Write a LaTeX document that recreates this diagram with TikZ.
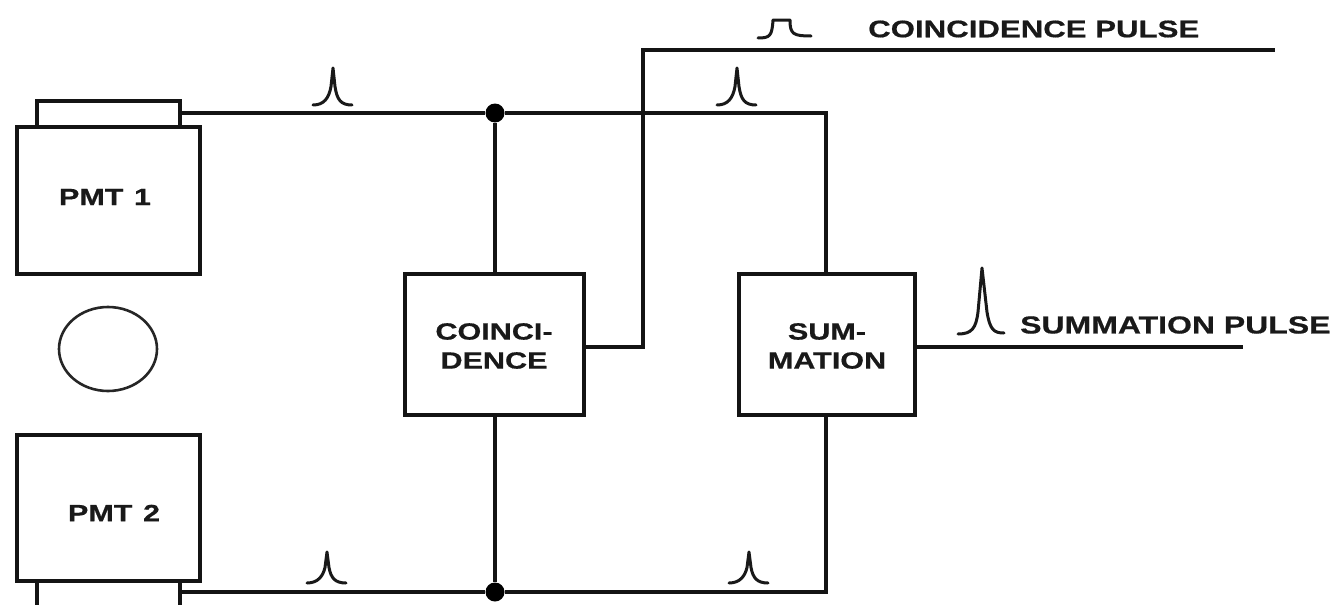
\documentclass[tikz,border=0pt]{standalone}
\usepackage{fontspec}
\usetikzlibrary{shapes.geometric}
\setmainfont{Liberation Sans}[BoldFont=Liberation Sans Bold]
\newfontfamily\lblfont{Liberation Sans Bold}[FakeStretch=1.3,FakeBold=0.6]
\tikzset{
  x=1pt,y=-1pt,
  wire/.style={line width=4.4pt,line join=miter,color=black!92},
  blockbox/.style={draw=black!92,line width=4.5pt,fill=white,minimum width=#1,inner sep=0pt},
  blocktext/.style={align=center,inner sep=0pt,text=black!90,font=\lblfont\fontsize{23.5}{29}\selectfont},
  lbl/.style={font=\lblfont\fontsize{#1}{28}\selectfont,inner sep=0pt,anchor=west,text=black!90},
  pmtlbl/.style={font=\lblfont\fontsize{23.5}{24}\selectfont,text=black!90,inner sep=0pt},
  pulse/.style={line width=3pt,line cap=round,line join=round,color=black!90},
  junction/.style={circle,fill=black,inner sep=0pt,minimum size=19pt}
}
\newcommand{\peak}[3]{% x, baseline y, height
  \draw[pulse] (#1-20,#2) .. controls (#1-9,#2) and (#1-4,#2-7) .. (#1-2,#2-#3*0.5) -- (#1,#2-#3)
    -- (#1+2,#2-#3*0.5) .. controls (#1+4,#2-5) and (#1+8,#2) .. (#1+19,#2);}
\begin{document}
\begin{tikzpicture}
\useasboundingbox (0,0) rectangle (1334,605);
% windows
\node[blockbox=143pt,minimum height=26pt] (win1) at (108.5,114) {};
\node[blockbox=143pt,minimum height=40pt] (win2) at (108.5,601) {};
% tubes
\node[blockbox=183pt,minimum height=147pt] (pmt1) at (108.5,200.5) {};
\node[blockbox=183pt,minimum height=146pt] (pmt2) at (108.5,508) {};
\node[pmtlbl] (pmt1t) at (105,197) {PMT\hspace{0.45em}1};
\node[pmtlbl] (pmt2t) at (114,513) {PMT\hspace{0.45em}2};
% source
\node[draw=black!85,line width=2.6pt,ellipse,minimum width=98pt,minimum height=84pt,inner sep=0pt] (src) at (108,349) {};
% logic
\node[blockbox=179pt,minimum height=141pt] (coin) at (494.5,344.5) {};
\node[blockbox=176pt,minimum height=141pt] (sum) at (827,344.5) {};
\node[blocktext] (coint) at (494,346) {COINCI-\\DENCE};
\node[blocktext] (sumt) at (827,346) {SUM-\\MATION};
% junctions
\node[junction] (jt) at (495,113) {};
\node[junction] (jb) at (495,592) {};
% corners and free ends
\coordinate (ct) at (826,113);
\coordinate (cb) at (826,592);
\coordinate (ob) at (643,347);
\coordinate (ot) at (643,50);
\coordinate (oe) at (1275,50);
\coordinate (se) at (1243,347);
% connectors
\draw[wire] (win1.east |- jt) -- (jt) -- (ct) -- (ct |- sum.north);
\draw[wire] (win2.east |- jb) -- (jb) -- (cb) -- (cb |- sum.south);
\draw[wire] (jt) -- (jt |- coin.north);
\draw[wire] (jb) -- (jb |- coin.south);
\draw[wire] (coin.east |- ob) -- (ob) -- (ot) -- (oe);
\draw[wire] (sum.east |- se) -- (se);
% pulses
\peak{333}{105}{37}
\peak{737}{105}{37}
\peak{327}{583}{31}
\peak{749}{583}{31}
\draw[pulse] (958,334) .. controls (972,334) and (976,328) .. (978,312) -- (982,268)
  -- (987,312) .. controls (990,330) and (994,333) .. (1004,333);
\draw[pulse] (758,38) .. controls (770,38) and (772,36) .. (773,20) -- (790,20)
  .. controls (790,34) and (793,36) .. (811,36);
% labels
\node[lbl=24] (cl) at (868,29) {COINCIDENCE PULSE};
\node[lbl=24.6] (sl) at (1020,325) {SUMMATION PULSE};
\end{tikzpicture}
\end{document}
